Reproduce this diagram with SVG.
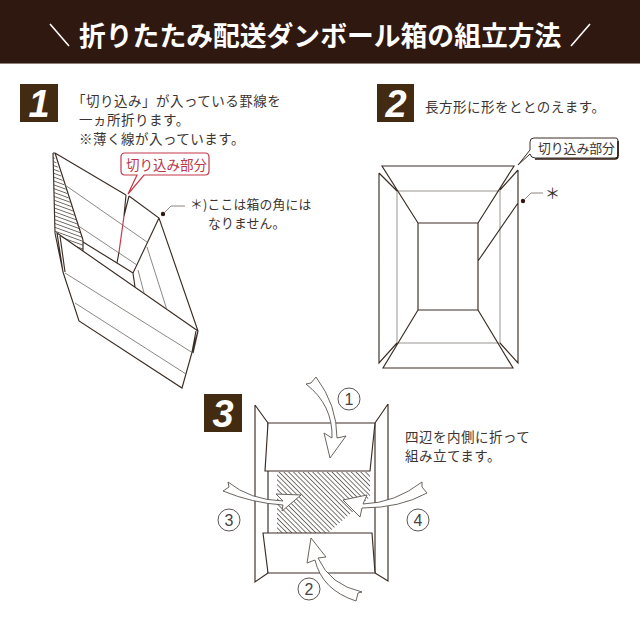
<svg xmlns="http://www.w3.org/2000/svg" width="640" height="640" viewBox="0 0 640 640">
<style>
text{font-family:"Noto Sans CJK JP","Noto Sans",sans-serif;fill:#3c3431;font-size:13.5px;letter-spacing:.5px}
.title{fill:#fff;font-size:26.8px;font-weight:700;letter-spacing:0}
.num{font-family:"Liberation Sans",sans-serif;font-weight:700;font-style:italic;font-size:38px;fill:#fff;text-anchor:middle;letter-spacing:0}
.tile{fill:#432b12}
.k{fill:none;stroke:#3a2d25;stroke-width:1.15;stroke-linejoin:miter}
.w{fill:#fff;stroke:#3a2d25;stroke-width:1.15}
.t{fill:none;stroke:#6f6863;stroke-width:.8}
.g{fill:none;stroke:#aaa7a3;stroke-width:1.2}
.a{fill:#fff;stroke:#5a534e;stroke-width:.9;stroke-linejoin:miter}
.c{fill:#fff;stroke:#4a4340;stroke-width:.9}
.n{font-size:16px;text-anchor:middle;font-family:"Liberation Sans",sans-serif;fill:#4a4340;letter-spacing:0}
</style>
<defs>
<pattern id="h1" width="4" height="3.6" patternUnits="userSpaceOnUse" patternTransform="rotate(20)"><rect width="4" height=".8" fill="#5a524c"/></pattern>
<pattern id="h3" width="4" height="3.4" patternUnits="userSpaceOnUse" patternTransform="rotate(45)"><rect width="4" height=".9" fill="#6a635e"/></pattern>
</defs>
<g id="header">
<rect width="640" height="63" fill="#2f1810"/>
<rect y="63" width="640" height="1" fill="#8b7f78"/>
<path d="M50 24L69 46M571 46L590 24" stroke="#fff" stroke-width="1.6" fill="none"/>
<text class="title" x="79" y="46">折りたたみ配送ダンボール箱の組立方法</text>
</g>
<g id="step1">
<rect class="tile" x="20" y="84" width="38" height="38"/>
<text class="num" x="39" y="117">1</text>
<text x="72" y="106">「切り込み」が入っている罫線を</text>
<text x="79" y="125">一ヵ所折ります。</text>
<text x="79" y="144">※薄く線が入っています。</text>
<path d="M53 153L55 233L83 251L83 240L65 187Z" fill="url(#h1)" stroke="none"/>
<path class="k" d="M53 153L55 233L63 272M60 236L65 272M55 153L126 195M129 196L159 218L198 331L182 388L79 321L63 272L57 233L198 331M159 218L133 273L135 287M55 153L83 240M83 240L83 251M83 242L117 263L133 273M53 153L55 153M129 196L124 216M126 195L124 216M119 252L117 263M196 331L192 352M198 331L193 353"/>
<path d="M124 216L119 252" stroke="#c4394a" stroke-width="1.2" fill="none"/>
<path class="t" d="M65 185L147 242M77 225L137 265M147 247L167 310M138 270L144 293M65 273L193 353M75 303L186 374"/>
</g>
<g id="callout1">
<path d="M125 153H205Q209 153 209 157V171Q209 175 205 175H144L128 194L137 175H125Q121 175 121 171V157Q121 153 125 153Z" fill="#fff" stroke="#c4394a" stroke-width="1.2"/>
<text x="126" y="170" style="fill:#b93748;letter-spacing:0">切り込み部分</text>
</g>
<g id="note1">
<circle cx="163" cy="214" r="2.2" fill="#2f1810"/>
<path class="t" d="M165 212L171 206H185"/>
<text style="font-size:12.8px;letter-spacing:.2px"><tspan x="190" y="209">＊)ここは箱の角には</tspan><tspan x="208" y="228">なりません。</tspan></text>
</g>
<g id="step2">
<rect class="tile" x="377" y="84" width="37" height="38"/>
<text class="num" x="396" y="117">2</text>
<text x="425" y="112">長方形に形をととのえます。</text>
<rect class="g" x="397" y="191" width="103" height="152"/>
<path class="k" d="M382 166H514L478 223H418ZM418 223H478V310H418ZM418 310L383 368H513L478 310M379 173V363L397 343M379 173L397 191M518 170V363L500 343M518 170L500 190M518 203L478 261"/>
</g>
<g id="callout2">
<path d="M534 138H616Q618 138 618 141V155Q618 158 615 158H535Q531 158 530 154L518 165L530 150V142Q530 138 534 138Z" fill="#fff" stroke="#3a2d25" stroke-width="1"/>
<path d="M618 141V156Q618 159 615 159H535" fill="none" stroke="#2f1810" stroke-width="1.6"/>
<text x="538" y="153" style="font-size:12.8px;letter-spacing:0">切り込み部分</text>
</g>
<g id="note2">
<circle cx="523" cy="201" r="2.2" fill="#2f1810"/>
<path class="t" d="M525 199L531 193H543"/>
<text x="545" y="199" style="font-size:15px;letter-spacing:0">＊</text>
</g>
<g id="step3">
<rect class="tile" x="204" y="394" width="38" height="38"/>
<text class="num" x="223" y="427">3</text>
<text x="405" y="442">四辺を内側に折って</text>
<text x="405" y="461">組み立てます。</text>
<path d="M277 472H370V497L328 533H277Z" fill="url(#h3)"/>
<path class="k" d="M255 405V582L268 573M255 405L268 423M388 404V581L375 573M388 404L375 423M268 423V573M375 423V573"/>
<path class="w" d="M268 423H375L370 471H265Z"/>
<path class="w" d="M263 533H372L375 573H268Z"/>
</g>
<g id="connectors">
<path class="a" d="M306 384L311 383L316 377Q337 405 337 438L346 436L330 458L324 433L332 438Q333 405 306 384Z"/>
<path class="a" d="M228 482L229 487L223 491Q252 503 283 505L282 511L301 495L276 494L283 501Q250 500 228 482Z"/>
<path class="a" d="M422 482L422 487L427 493Q400 508 362 508L360 517L343 500L367 495L363 504Q395 503 422 482Z"/>
<path class="a" d="M311 538L326 557L318 558Q330 585 362 592L358 593L356 601Q322 590 315 560L307 563Z"/>
</g>
<g id="num1"><circle class="c" cx="349" cy="399" r="11"/><text class="n" x="349" y="405">1</text></g>
<g id="num2"><circle class="c" cx="309" cy="589" r="11"/><text class="n" x="309" y="595">2</text></g>
<g id="num3"><circle class="c" cx="229" cy="520" r="11"/><text class="n" x="229" y="526">3</text></g>
<g id="num4"><circle class="c" cx="418" cy="520" r="11"/><text class="n" x="418" y="526">4</text></g>
</svg>
